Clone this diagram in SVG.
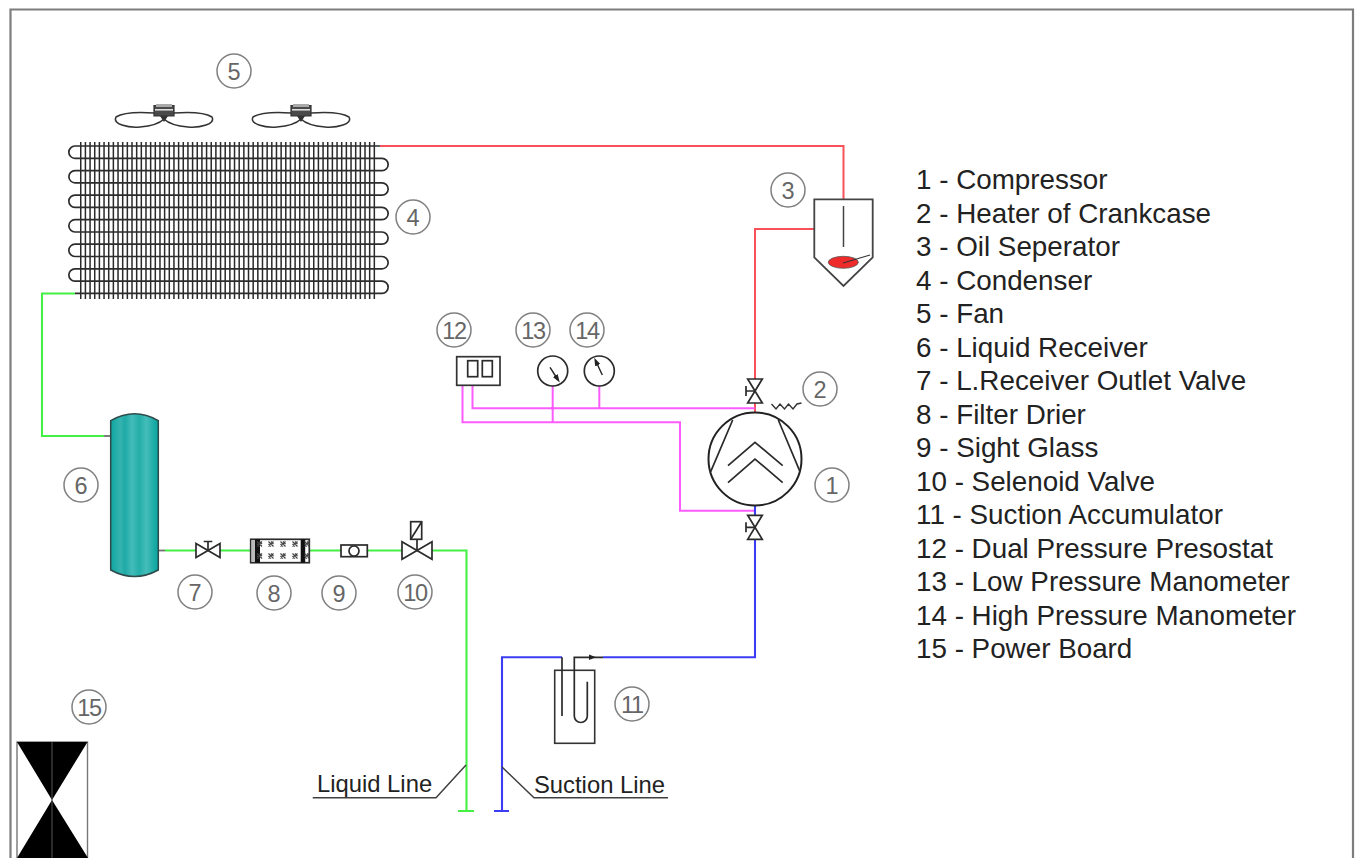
<svg xmlns="http://www.w3.org/2000/svg" width="1356" height="858" viewBox="0 0 1356 858">
<style>
text{font-family:"Liberation Sans",Arial,sans-serif}
.frame{fill:none;stroke:#7d7d7d;stroke-width:2.2}
.sym{fill:none;stroke:#2b2b2b;stroke-width:1.7;stroke-linejoin:miter}
.symw{fill:#fff;stroke:#2b2b2b;stroke-width:1.7}
.stub{fill:none;stroke:#707070;stroke-width:1.8}
.red{fill:none;stroke:#f9505a;stroke-width:2}
.green{fill:none;stroke:#44f044;stroke-width:2.1}
.blue{fill:none;stroke:#3c3cf5;stroke-width:2.1}
.mag{fill:none;stroke:#fb5cfb;stroke-width:2}
.tube{fill:none;stroke:#2c2c2c;stroke-width:1.7}
.ring{fill:#fff;stroke:#808080;stroke-width:1.5}
.num{font-size:23.500px;fill:#666;text-anchor:middle}
.two{letter-spacing:-1.300px}
.leg{font-size:27.800px;fill:#222}
.lbl{font-size:23.800px;fill:#222}
.lead{fill:none;stroke:#404040;stroke-width:1.500}
</style>
<defs>
<linearGradient id="tank" x1="0" x2="1" y1="0" y2="0">
<stop offset="0" stop-color="#0fa5a0"/><stop offset=".2" stop-color="#35b3b0"/><stop offset=".3" stop-color="#1faaa6"/><stop offset=".45" stop-color="#44bbb9"/><stop offset=".6" stop-color="#25aeaa"/><stop offset=".75" stop-color="#45bdba"/><stop offset="1" stop-color="#06a39d"/>
</linearGradient>
<marker id="tip" viewBox="0 0 6 6" refX="3" refY="3" markerWidth="6" markerHeight="6" orient="auto-start-reverse"><path d="M0 1L6 3L0 5Z" fill="#222"/></marker>
<g id="fan"><path fill="none" stroke="#333" stroke-width="1.500" d="M154 113C140 112 124 112 116 117C112 124 128 128 140 127C152 126 160 123 164 119C168 123 176 126 188 127C200 128 216 124 212 117C204 112 188 112 174 113"/><path d="M154 105.500H174V116H154Z" fill="#4a4a4a" stroke="#333" stroke-width="1.200"/><rect x="156" y="104" width="16" height="3" fill="#aaa"/><rect x="155" y="109" width="18" height="1.600" fill="#ddd"/><path d="M160 116L164 122L168 116" fill="#333"/></g>
<g id="hatch"><path d="M-2.500 -2.500L2.500 2.500M-2.500 0L0 2.500M0 -2.500L2.500 0M-2.500 2.500L2.500 -2.500" stroke="#444" stroke-width="1.200" fill="none"/></g>
<g id="svalve"><path class="sym" d="M-7.300 -12H7.300L-7.300 12H7.300Z"/><path class="sym" d="M0 0H-9M-9 -5V5"/></g>
</defs>
<rect width="1356" height="858" fill="#fff"/>
<path class="frame" d="M10.500 858V9.500H1353V858"/>

<g id="connectors">
<path class="red" d="M380 146H843.500V199"/>
<path class="red" d="M814 229H755V379"/>
<path class="red" d="M755 403V413"/>
<path class="green" d="M75 293.500H42V436H104"/>
<path class="stub" d="M104 436H111"/>
<path class="stub" d="M158 550.500H165"/>
<path class="green" d="M165 550.500H196M220 550.500H250M310 550.500H341M367 550.500H402M432 550.500H466.500V811M458 811H474"/>
<path class="mag" d="M472.500 385V408.300H755"/>
<path class="mag" d="M462.500 385V422.300H680V510.700H755"/>
<path class="mag" d="M552.700 386V422.300"/>
<path class="mag" d="M599.300 386V408.300"/>
<path class="blue" d="M755 505V516M755 539V657.300H603"/>
<path class="blue" d="M562 657.300H502V811M494 811H509"/>
</g>

<g id="n4">
<line x1="80" x2="378" y1="220.500" y2="220.500" stroke="#2a2a2a" stroke-width="157" stroke-dasharray="1.500 3.160"/>
<path class="tube" d="M380 146H75A6.100 6.100 0 0 0 75 158.300H382A6.100 6.100 0 0 1 382 170.600H75A6.100 6.100 0 0 0 75 182.800H382A6.100 6.100 0 0 1 382 195.100H75A6.100 6.100 0 0 0 75 207.400H382A6.100 6.100 0 0 1 382 219.700H75A6.100 6.100 0 0 0 75 232H382A6.100 6.100 0 0 1 382 244.200H75A6.100 6.100 0 0 0 75 256.500H382A6.100 6.100 0 0 1 382 268.800H75A6.100 6.100 0 0 0 75 281.100H382A6.100 6.100 0 0 1 382 293.400H75"/>
</g>
<g id="n5"><use href="#fan"/><use href="#fan" x="137"/></g>
<g id="n6"><path d="M110.700 420.700Q134.500 407 158.300 420.700V570Q134.500 583 110.700 570Z" fill="url(#tank)" stroke="#2f4a4a" stroke-width="1.500"/></g>
<g id="n7"><path class="sym" d="M196 543.500V557.500L220 543.500V557.500Z"/><path class="sym" d="M208 550.500V541.500M203.700 541.500H212.300"/></g>
<g id="n8">
<rect class="symw" x="250.700" y="539.300" width="58.600" height="23.400"/>
<rect x="255" y="539.300" width="5" height="23.400" fill="#111"/><rect x="300.700" y="539.300" width="4.500" height="23.400" fill="#111"/>
<rect x="251.500" y="540" width="3.500" height="22" fill="#bbb"/>
<use href="#hatch" x="259.500" y="544"/><use href="#hatch" x="271" y="544"/><use href="#hatch" x="283" y="544"/><use href="#hatch" x="295" y="544"/><use href="#hatch" x="307" y="544"/>
<use href="#hatch" x="259.500" y="556"/><use href="#hatch" x="271" y="556"/><use href="#hatch" x="283" y="556"/><use href="#hatch" x="295" y="556"/><use href="#hatch" x="307" y="556"/>
</g>
<g id="n9"><rect class="symw" x="341" y="545" width="26.300" height="11.700"/><circle class="symw" cx="354" cy="551" r="5"/></g>
<g id="n10"><path class="sym" d="M402 541.700V559.300L432 541.700V559.300Z"/><path class="sym" d="M417 550.500V539.300"/><rect class="sym" x="410.700" y="521.700" width="11" height="17.600"/><path class="sym" d="M410.700 539.300L421.700 521.700"/></g>
<g id="n1">
<circle cx="755" cy="459" r="46.500" fill="#fff" stroke="#222" stroke-width="2"/>
<path class="sym" d="M728 465.700L755 442.300L782.700 465.700M728 482.700L755 459L782.700 482.700M732.700 420L710.700 471.700M778.300 420L800 471.700"/>
</g>
<g id="n1a"><use href="#svalve" x="755" y="391"/><use href="#svalve" x="755" y="527.300"/></g>
<g id="n2"><path fill="none" stroke="#333" stroke-width="1.400" d="M771.500 404L776 409L780 404L784.500 409L788.500 404L793 409L797 404L801.500 403"/></g>
<g id="n3">
<path fill="#fff" stroke="#444" stroke-width="1.800" d="M814.300 199.300H872.700V257.300L843.500 286L814.300 257.300Z"/>
<path d="M843.500 206V247" stroke="#444" stroke-width="1.500"/>
<ellipse cx="843.300" cy="262.300" rx="15" ry="6" fill="#ee2a2a" stroke="#555" stroke-width=".8"/>
<path d="M843 263L870 255" stroke="#333" stroke-width="1.100"/>
</g>
<g id="n11">
<rect x="554.700" y="670.300" width="40" height="73" fill="none" stroke="#333" stroke-width="1.600"/>
<path class="sym" d="M562 657.300V716"/>
<path class="sym" d="M603 657.300H574.300V716A6.500 6.500 0 0 0 587.300 716V681.700"/>
<path d="M589 654.500L596 657.300L589 660Z" fill="#222"/>
</g>
<g id="n12"><rect x="456.700" y="356.700" width="43.300" height="28.600" fill="#fff" stroke="#333" stroke-width="1.700"/><rect class="sym" x="467.700" y="360.700" width="10" height="16"/><rect class="sym" x="482.300" y="360.700" width="10" height="16"/></g>
<g id="n13"><circle class="symw" cx="552.700" cy="371" r="15"/><path d="M550 367.300L557.500 379" stroke="#222" stroke-width="1.400" marker-end="url(#tip)"/><circle cx="552.700" cy="408.300" r="1.800" fill="#fb5cfb"/></g>
<g id="n14"><circle class="symw" cx="599.300" cy="371" r="15"/><path d="M602.300 375L596 361.500" stroke="#222" stroke-width="1.400" marker-end="url(#tip)"/></g>
<g id="n15"><rect x="17" y="742" width="70.500" height="130" fill="#fff" stroke="#777" stroke-width="1.400"/><path d="M17 742H87.500L52 800L88 858H17L52 800Z" fill="#000"/><path d="M52 742V858" stroke="#555" stroke-width="1"/></g>

<g id="callouts">
<circle class="ring" cx="234" cy="71" r="17"/><text class="num" x="234" y="79.500">5</text>
<circle class="ring" cx="413" cy="217" r="17"/><text class="num" x="413" y="225.500">4</text>
<circle class="ring" cx="788" cy="190" r="17"/><text class="num" x="788" y="198.500">3</text>
<circle class="ring" cx="820" cy="389" r="17"/><text class="num" x="820" y="397.500">2</text>
<circle class="ring" cx="832" cy="485" r="17"/><text class="num" x="832" y="493.500">1</text>
<circle class="ring" cx="81" cy="485" r="17"/><text class="num" x="81" y="493.500">6</text>
<circle class="ring" cx="195" cy="592" r="17"/><text class="num" x="195" y="600.500">7</text>
<circle class="ring" cx="274" cy="593" r="17"/><text class="num" x="274" y="601.500">8</text>
<circle class="ring" cx="339" cy="593" r="17"/><text class="num" x="339" y="601.500">9</text>
<circle class="ring" cx="415" cy="592" r="17"/><text class="num two" x="415" y="600.500">10</text>
<circle class="ring" cx="632" cy="704" r="17"/><text class="num two" x="632" y="712.500">11</text>
<circle class="ring" cx="454" cy="330" r="17"/><text class="num two" x="454" y="338.500">12</text>
<circle class="ring" cx="533" cy="330" r="17"/><text class="num two" x="533" y="338.500">13</text>
<circle class="ring" cx="587" cy="330" r="17"/><text class="num two" x="587" y="338.500">14</text>
<circle class="ring" cx="89" cy="707" r="17"/><text class="num two" x="89" y="715.500">15</text>
</g>

<g id="line-labels">
<path class="lead" d="M312.700 797.700H436L466 765"/>
<path class="lead" d="M502 767L534 797.700H668"/>
<text class="lbl" x="317" y="792">Liquid Line</text>
<text class="lbl" x="534" y="793">Suction Line</text>
</g>

<g id="legend">
<text class="leg" x="916" y="189">1 - Compressor</text>
<text class="leg" x="916" y="223">2 - Heater of Crankcase</text>
<text class="leg" x="916" y="256">3 - Oil Seperator</text>
<text class="leg" x="916" y="290">4 - Condenser</text>
<text class="leg" x="916" y="323">5 - Fan</text>
<text class="leg" x="916" y="357">6 - Liquid Receiver</text>
<text class="leg" x="916" y="390">7 - L.Receiver Outlet Valve</text>
<text class="leg" x="916" y="424">8 - Filter Drier</text>
<text class="leg" x="916" y="457">9 - Sight Glass</text>
<text class="leg" x="916" y="491">10 - Selenoid Valve</text>
<text class="leg" x="916" y="524">11 - Suction Accumulator</text>
<text class="leg" x="916" y="558">12 - Dual Pressure Presostat</text>
<text class="leg" x="916" y="591">13 - Low Pressure Manometer</text>
<text class="leg" x="916" y="625">14 - High Pressure Manometer</text>
<text class="leg" x="916" y="658">15 - Power Board</text>
</g>
</svg>
